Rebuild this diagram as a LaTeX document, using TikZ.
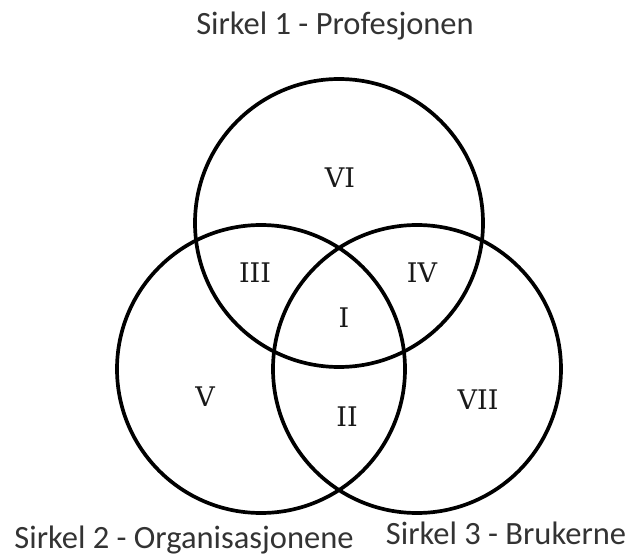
\documentclass[tikz,border=0pt]{standalone}
\usepackage{fontspec}
\setmainfont{DejaVu Serif}
\newfontfamily\capfont{Carlito}
\usepackage{tikz}

\begin{document}
\begin{tikzpicture}[x=1pt, y=-1pt,
  ring/.style={circle, draw, line width=3.7pt, minimum size=288pt, inner sep=0pt},
  region/.style={font=\fontsize{27}{27}\selectfont, text=black!90},
  caption/.style={font=\capfont\fontsize{32.5}{32.5}\selectfont, text=black!80, anchor=base}
]
\useasboundingbox (0,0) rectangle (629,556);

% the three circles
\node[ring] (prof) at (339,223) {};
\node[ring] (org) at (261,369) {};
\node[ring] (bruk) at (417,369) {};

% regions
\node[region] (r1) at (344,318) {I};
\node[region] (r2) at (347,417) {II};
\node[region] (r3) at (255,273) {III};
\node[region] (r4) at (422,273) {IV};
\node[region] (r5) at (205,397) {V};
\node[region] (r6) at (340,178) {VI};
\node[region] (r7) at (478,400) {VII};

% captions
\node[caption] (cprof) at (335,35) {Sirkel 1 - Profesjonen};
\node[caption] (corg) at (184,548) {Sirkel 2 - Organisasjonene};
\node[caption] (cbruk) at (506,544) {Sirkel 3 - Brukerne};

\end{tikzpicture}
\end{document}
